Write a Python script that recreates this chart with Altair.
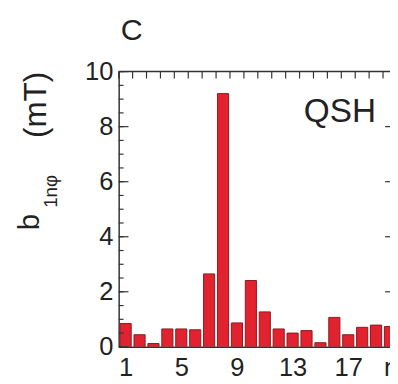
import altair as alt
import pandas as pd

# ---- data ----
n_modes = [1, 2, 3, 4, 5, 6, 7, 8, 9, 10, 11, 12, 13, 14, 15, 16, 17, 18, 19, 20]
b_values = [0.85, 0.44, 0.12, 0.65, 0.65, 0.62, 2.65, 9.2, 0.87, 2.41,
            1.27, 0.65, 0.50, 0.59, 0.15, 1.07, 0.44, 0.71, 0.79, 0.74]
x_tick_labels = [1, 5, 9, 13, 17]
y_tick_labels = [0, 2, 4, 6, 8, 10]
y_minor_ticks = [0, 0.5, 1, 1.5, 2, 2.5, 3, 3.5, 4, 4.5, 5, 5.5, 6, 6.5, 7, 7.5,
                 8, 8.5, 9, 9.5, 10]
top_ticks = [0.5, 1.5, 2.5, 3.5, 4.5, 5.5, 6.5, 7.5, 8.5, 9.5, 10.5, 11.5,
             12.5, 13.5, 14.5, 15.5, 16.5, 17.5, 18.5, 19.5]
right_ticks = [2, 4, 6, 8]
panel_label = "C"
mode_label = "QSH"

W, H = 277, 281
FONT = "Liberation Sans"
INK = "#222222"
AX = "#333333"

df = pd.DataFrame({"n": n_modes, "b": b_values})
xs = alt.Scale(domain=[0.5, 20.0], nice=False, zero=False)
ys = alt.Scale(domain=[0, 10], nice=False, zero=True)

bars = alt.Chart(df).transform_calculate(
    x0="datum.n - 0.4", x1="datum.n + 0.4"
).mark_bar(clip=True, fill="#e2232f", stroke="#8b1a1f", strokeWidth=1).encode(
    x=alt.X("x0:Q", scale=xs, axis=alt.Axis(
        values=x_tick_labels, ticks=False, grid=False, title=None,
        labelFont=FONT, labelFontSize=26, labelColor=INK, labelPadding=8,
        labelFlush=False, domainColor=AX, domainWidth=1.5)),
    x2="x1:Q",
    y=alt.Y("b:Q", scale=ys, axis=alt.Axis(
        values=y_tick_labels, ticks=False, grid=False, title=None,
        labelFont=FONT, labelFontSize=26, labelColor=INK, labelPadding=6,
        domainColor=AX, domainWidth=1.5)),
    y2=alt.datum(0),
)

minor_left = alt.Chart(pd.DataFrame({"v": y_minor_ticks})).mark_rule(
    color=AX, strokeWidth=1.2).encode(
    y=alt.Y("v:Q", scale=ys, title=None), x=alt.value(0), x2=alt.value(5))

major_left = alt.Chart(pd.DataFrame({"v": y_tick_labels})).mark_rule(
    color=AX, strokeWidth=1.2).encode(
    y=alt.Y("v:Q", scale=ys, title=None), x=alt.value(0), x2=alt.value(10))

right = alt.Chart(pd.DataFrame({"v": right_ticks})).mark_rule(
    color=AX, strokeWidth=1.2).encode(
    y=alt.Y("v:Q", scale=ys, title=None), x=alt.value(W - 5), x2=alt.value(W))

top = alt.Chart(pd.DataFrame({"t": top_ticks})).mark_rule(
    color=AX, strokeWidth=1.2).encode(
    x=alt.X("t:Q", scale=xs, title=None), y=alt.value(0), y2=alt.value(7))

top_line = alt.Chart(pd.DataFrame({"t": [0]})).mark_rule(
    color=AX, strokeWidth=1.5).encode(
    x=alt.value(0), x2=alt.value(W), y=alt.value(0))


def label(txt, x, y, size, align="left", angle=0, baseline="alphabetic"):
    return alt.Chart(pd.DataFrame({"t": [txt]})).mark_text(
        font=FONT, fontSize=size, color=INK, align=align, baseline=baseline,
        angle=angle).encode(x=alt.value(x), y=alt.value(y), text="t:N")


texts = [
    label(panel_label, 2, -32, 31),
    label(mode_label, 189, 51, 34),
    label("n", 271, 311, 26),
    label("b", -81, 162, 30, angle=270),
    label("1nφ", -63, 139, 19, angle=270),
    label("(mT)", -74, 34, 32, align="center", angle=270),
]

chart = alt.layer(bars, minor_left, major_left, right, top, top_line, *texts).properties(
    width=W, height=H,
    padding={"left": 113, "top": 61, "right": 0, "bottom": 34},
    autosize=alt.AutoSizeParams(type="none"),
).configure_view(stroke=None)

chart.save("out.html", embed_options={"renderer": "svg", "actions": False})
